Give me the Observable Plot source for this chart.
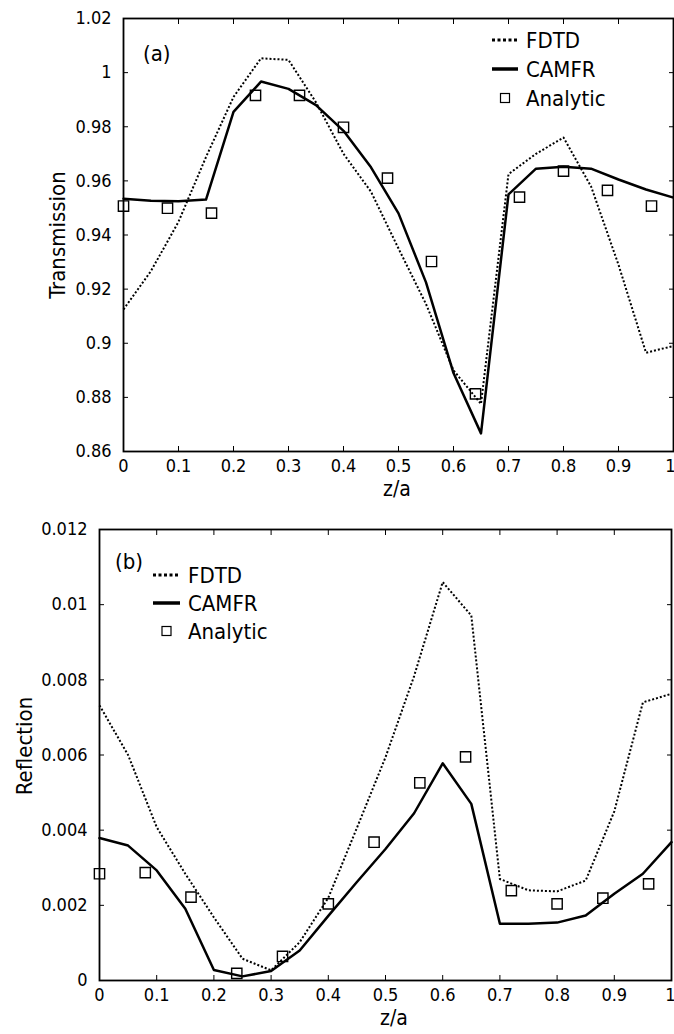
<!DOCTYPE html>
<html>
<head>
<meta charset="utf-8">
<script src="https://cdn.jsdelivr.net/npm/d3@7"></script>
<script src="https://cdn.jsdelivr.net/npm/@observablehq/plot@0.6"></script>
<style>
  html, body { margin: 0; padding: 0; background: #fff; }
  svg { display: block; }
</style>
</head>
<body>
<div id="chart"></div>
<script>
// ---- data ----
const zGrid = [0,0.05,0.1,0.15,0.2,0.25,0.3,0.35,0.4,0.45,0.5,0.55,0.6,0.65,0.7,0.75,0.8,0.85,0.9,0.95,1];
const zAnalytic = [0,0.08,0.16,0.24,0.32,0.40,0.48,0.56,0.64,0.72,0.80,0.88,0.96];

// (a) Transmission
const transFDTD  = [0.9125,0.9267,0.9449,0.9688,0.991,1.0053,1.0047,0.989,0.970,0.956,0.935,0.9145,0.890,0.8776,0.9625,0.970,0.976,0.958,0.929,0.8965,0.899];
const transCAMFR = [0.9534,0.9527,0.9525,0.9531,0.9855,0.9967,0.9940,0.9880,0.9785,0.9650,0.9480,0.9225,0.8890,0.8667,0.9550,0.9645,0.9652,0.9645,0.9605,0.9568,0.9538];
const transAnalytic = [0.9507,0.9499,0.9481,0.9916,0.9916,0.9798,0.9610,0.9302,0.8813,0.9540,0.9636,0.9565,0.9507];

// (b) Reflection
const reflFDTD  = [0.00732,0.0060,0.00408,0.00284,0.00168,0.00058,0.00027,0.00102,0.0022,0.00406,0.00594,0.0081,0.0106,0.00971,0.0027,0.0024,0.00237,0.00266,0.0045,0.0074,0.00763];
const reflCAMFR = [0.00379,0.00359,0.00293,0.00191,0.00028,0.00011,0.00025,0.00080,0.00172,0.00262,0.0035,0.00445,0.00578,0.00470,0.00151,0.00151,0.00154,0.00173,0.00231,0.00284,0.00368];
const reflAnalytic = [0.00284,0.00287,0.00222,0.00019,0.00064,0.00204,0.00368,0.00526,0.00595,0.00239,0.00204,0.00219,0.00257];

// ticks
const xTicks = [0,0.1,0.2,0.3,0.4,0.5,0.6,0.7,0.8,0.9,1];
const transTicks = [0.86,0.88,0.9,0.92,0.94,0.96,0.98,1,1.02];
const reflTicks = [0,0.002,0.004,0.006,0.008,0.01,0.012];

const seriesNames = ["FDTD","CAMFR","Analytic"];

const tickFont = "'Liberation Sans Narrow','Arial Narrow','DejaVu Sans Condensed',sans-serif";
const labelFont = "'DejaVu Sans Condensed','DejaVu Sans',sans-serif";

function panel(opts) {
  const {height, mt, mb, ml, mr, ydomain, yticks, fdtd, camfr, ana} = opts;
  const lineData = (vals) => zGrid.map((z, i) => ({z, v: vals[i]}));
  const dotData = ana.map((v, i) => ({z: zAnalytic[i], v}));
  const innerTicks = xTicks.slice(0, -1);
  const lastTick = xTicks.slice(-1);
  return Plot.plot({
    width: 674, height,
    marginTop: mt, marginBottom: mb, marginLeft: ml, marginRight: mr,
    style: {fontFamily: tickFont, fontSize: "18px", color: "black", background: "white"},
    x: {domain: [0, 1]},
    y: {domain: ydomain},
    marks: [
      Plot.line(lineData(fdtd), {x: "z", y: "v", stroke: "black", strokeWidth: 2, strokeDasharray: "2,2", strokeLinecap: "butt"}),
      Plot.line(lineData(camfr), {x: "z", y: "v", stroke: "black", strokeWidth: 2.5}),
      Plot.dot(dotData, {x: "z", y: "v", symbol: "square", r: 5.8, stroke: "black", fill: "none", strokeWidth: 1.4}),
      Plot.axisX({ticks: innerTicks, tickSize: -5, tickPadding: 13, label: null, fontSize: 18, tickFormat: d => String(d)}),
      Plot.axisX({ticks: lastTick, tickSize: -5, tickPadding: 13, label: null, fontSize: 18, textAnchor: "end", dx: 1 + mr, tickFormat: d => String(d)}),
      Plot.axisX({anchor: "top", ticks: xTicks, tickSize: -5, label: null, tickFormat: () => ""}),
      Plot.axisY({ticks: yticks, tickSize: -5, tickPadding: 17, label: null, fontSize: 18, tickFormat: d => String(d)}),
      Plot.axisY({anchor: "right", ticks: yticks, tickSize: -5, label: null, tickFormat: () => ""}),
      Plot.frame({stroke: "black", strokeWidth: 1.8})
    ]
  });
}

const root = d3.select("#chart");

const svgA = panel({height: 502, mt: 18, mb: 51, ml: 123, mr: 1,
  ydomain: [0.86, 1.02], yticks: transTicks,
  fdtd: transFDTD, camfr: transCAMFR, ana: transAnalytic});
root.node().appendChild(svgA);

const svgB = panel({height: 532, mt: 27, mb: 54, ml: 99, mr: 3,
  ydomain: [0, 0.012], yticks: reflTicks,
  fdtd: reflFDTD, camfr: reflCAMFR, ana: reflAnalytic});
root.node().appendChild(svgB);

function decorate(svg, o) {
  const s = d3.select(svg);
  const g = s.append("g").attr("font-family", labelFont).attr("fill", "black").attr("text-anchor", "start");
  g.append("text").attr("x", o.xlab[0]).attr("y", o.xlab[1]).attr("text-anchor", "middle")
    .attr("font-size", 21).text("z/a");
  g.append("text").attr("transform", `translate(${o.ylab[0]},${o.ylab[1]}) rotate(-90)`)
    .attr("text-anchor", "middle").attr("dominant-baseline", "central")
    .attr("font-size", 22).text(o.ylabel);
  g.append("text").attr("x", o.tag[0]).attr("y", o.tag[1]).attr("dominant-baseline", "central")
    .attr("text-anchor", "start").attr("font-size", 22).text(o.tagText);
  const L = o.legend;
  const kinds = ["dot", "solid", "square"];
  seriesNames.forEach((name, i) => {
    const y = L.y0 + i * L.dy;
    const kind = kinds[i];
    if (kind === "dot") {
      g.append("line").attr("x1", L.lx1).attr("x2", L.lx2).attr("y1", y).attr("y2", y)
        .attr("stroke", "black").attr("stroke-width", 3).attr("stroke-dasharray", "3,2.5");
    } else if (kind === "solid") {
      g.append("line").attr("x1", L.lx1).attr("x2", L.lx2).attr("y1", y).attr("y2", y)
        .attr("stroke", "black").attr("stroke-width", 3.5);
    } else {
      const c = (L.lx1 + L.lx2) / 2;
      g.append("rect").attr("x", c - 4.5).attr("y", y - 4.5).attr("width", 9).attr("height", 9)
        .attr("fill", "none").attr("stroke", "black").attr("stroke-width", 1.2);
    }
    g.append("text").attr("x", L.tx).attr("y", y).attr("dominant-baseline", "central")
      .attr("text-anchor", "start").attr("font-size", 22).text(name);
  });
}

decorate(svgA, {xlab: [397, 496], ylab: [57, 235], ylabel: "Transmission",
  tag: [143, 53], tagText: "(a)",
  legend: {y0: 40, dy: 29, lx1: 492, lx2: 518, tx: 526}});
decorate(svgB, {xlab: [394, 523], ylab: [24, 244], ylabel: "Reflection",
  tag: [115, 59], tagText: "(b)",
  legend: {y0: 73, dy: 28, lx1: 153, lx2: 180, tx: 188}});
</script>
</body>
</html>
